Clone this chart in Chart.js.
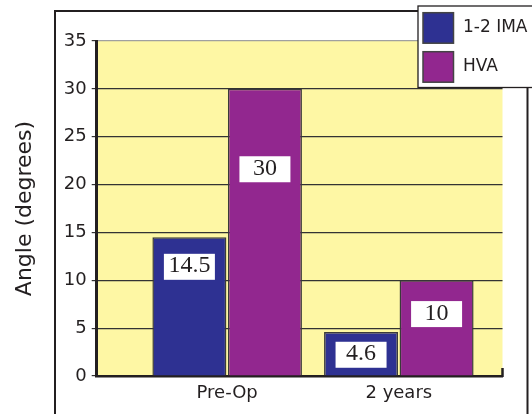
<!DOCTYPE html>
<html>
<head>
<meta charset="utf-8">
<script src="https://cdn.jsdelivr.net/npm/chart.js@4/dist/chart.umd.min.js"></script>
<style>
html, body { margin: 0; padding: 0; background: #fff; }
#holder { position: relative; width: 532px; height: 414px; }
</style>
</head>
<body>
<div id="holder"><canvas id="angleChart"></canvas></div>
<script>
var categories = ['Pre-Op', '2 years'];
var imaValues = [14.5, 4.6];
var hvaValues = [30, 10];
var seriesNames = ['1-2 IMA', 'HVA'];
var seriesColors = ['#2e3192', '#92278f'];
var yMin = 0, yMax = 35, yStep = 5;

var ink = '#231f20';
var ctx = document.getElementById('angleChart').getContext('2d');
Chart.defaults.font.family = '"DejaVu Sans", sans-serif';

function points(values){
    return values.map(function(v, i){ return { x: i, y: v }; });
}

// outer frame + yellow plot background
var backdrop = {
    id: 'backdrop',
    beforeDraw: function(chart){
        var c = chart.ctx, a = chart.chartArea;
        c.save();
        c.fillStyle = '#fef7a4';
        c.fillRect(a.left, a.top, a.right - a.left, a.bottom - a.top);
        c.strokeStyle = ink;
        c.lineWidth = 2;
        c.beginPath();
        c.moveTo(55, 414); c.lineTo(55, 11); c.lineTo(527.5, 11); c.lineTo(527.5, 414);
        c.stroke();
        c.restore();
    }
};

// white boxes with the values, inside the bars
var valueBoxes = {
    id: 'valueBoxes',
    afterDatasetsDraw: function(chart, args, opts){
        var c = chart.ctx;
        var all = [imaValues, hvaValues];
        c.save();
        c.font = '24px "Liberation Serif", serif';
        c.textAlign = 'center';
        c.textBaseline = 'alphabetic';
        chart.data.datasets.forEach(function(ds, d){
            chart.getDatasetMeta(d).data.forEach(function(bar, i){
                var top = bar.y + opts.drop[d][i];
                c.fillStyle = '#fff';
                c.fillRect(bar.x - 25.5, top, 51, 26);
                c.fillStyle = ink;
                c.fillText(String(all[d][i]), bar.x, top + 18.5);
            });
        });
        c.restore();
    }
};

// boxed legend in the top right corner + stub at end of the base line
var cornerLegend = {
    id: 'cornerLegend',
    afterDraw: function(chart){
        var c = chart.ctx, a = chart.chartArea;
        c.save();
        c.strokeStyle = ink;
        c.lineWidth = 2.5;
        c.beginPath(); c.moveTo(a.right, a.bottom - 8); c.lineTo(a.right, a.bottom + 1); c.stroke();

        c.fillStyle = '#fff';
        c.fillRect(418, 6, 120, 81.5);
        c.lineWidth = 1.3;
        c.strokeRect(418, 6, 120, 81.5);
        c.font = '17px "DejaVu Sans", sans-serif';
        c.textAlign = 'left';
        c.textBaseline = 'alphabetic';
        chart.data.datasets.forEach(function(ds, d){
            var y = 12.7 + d * 39;
            c.fillStyle = ds.backgroundColor;
            c.fillRect(423, y, 30.5, 30.5);
            c.strokeStyle = '#444';
            c.lineWidth = 1.5;
            c.strokeRect(423, y, 30.5, 30.5);
            c.fillStyle = ink;
            c.fillText(ds.label, 463, y + 19.5);
        });
        c.restore();
    }
};

var chart = new Chart(ctx, {
    type: 'bar',
    data: {
        datasets: [{
            label: seriesNames[0],
            data: points(imaValues),
            backgroundColor: seriesColors[0],
            borderColor: '#3a3a3a',
            borderWidth: 1.5
        }, {
            label: seriesNames[1],
            data: points(hvaValues),
            backgroundColor: seriesColors[1],
            borderColor: '#3a3a3a',
            borderWidth: 1.5
        }]
    },
    options: {
        responsive: true,
        maintainAspectRatio: false,
        animation: false,
        categoryPercentage: 0.88,
        barPercentage: 0.98,
        layout: { padding: { top: 41, right: 29.5, left: 0, bottom: 0 } },
        plugins: {
            legend: { display: false },
            tooltip: { enabled: false },
            valueBoxes: { drop: [[16.6, 9.8], [67.4, 20.8]] }
        },
        scales: {
            x: {
                type: 'linear',
                offset: false,
                min: -0.76,
                max: 1.604,
                afterBuildTicks: function(axis){
                    axis.ticks = categories.map(function(c, i){ return { value: i }; });
                },
                afterFit: function(axis){ axis.height = 38; },
                grid: { display: false, drawTicks: false, offset: false },
                border: { display: true, color: ink, width: 2.5 },
                ticks: {
                    callback: function(v){ return categories[v]; },
                    font: { size: 18 },
                    color: ink,
                    padding: 7,
                    maxRotation: 0,
                    autoSkip: false
                }
            },
            y: {
                min: yMin,
                max: yMax,
                afterFit: function(axis){ axis.width = 96.7; },
                ticks: { stepSize: yStep, font: { size: 18 }, color: ink, padding: 5 },
                grid: {
                    color: function(c){ return c.tick && c.tick.value === yMax ? '#a0a0a0' : '#333'; },
                    lineWidth: 1.2,
                    tickLength: 5,
                    tickColor: '#333'
                },
                border: { color: ink, width: 3 },
                title: {
                    display: true,
                    text: 'Angle (degrees)',
                    font: { size: 22 },
                    color: ink,
                    padding: { top: 12, bottom: 0 }
                }
            }
        }
    },
    plugins: [backdrop, valueBoxes, cornerLegend]
});
</script>
</body>
</html>
